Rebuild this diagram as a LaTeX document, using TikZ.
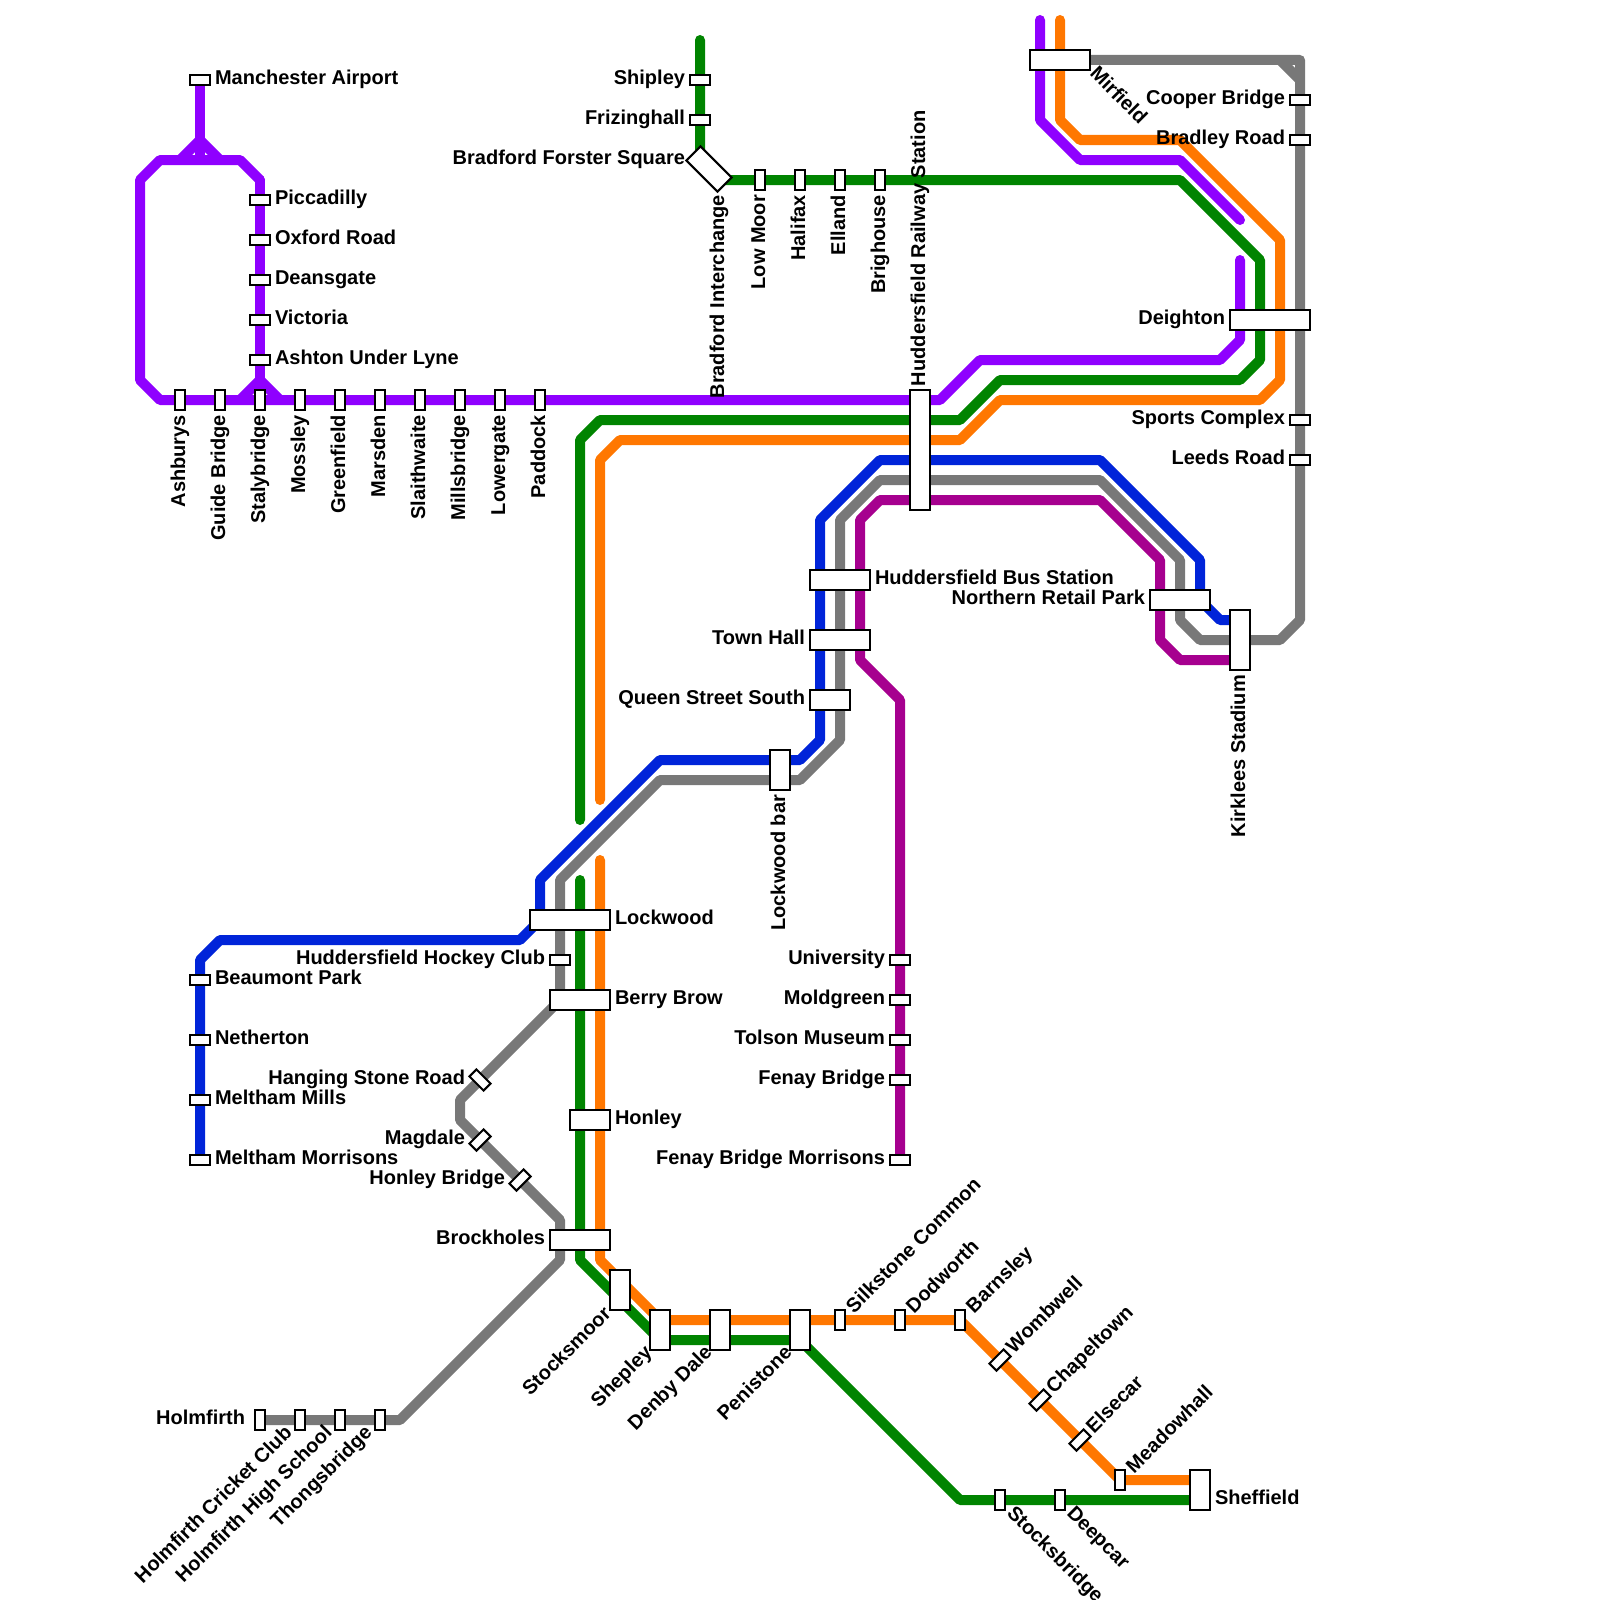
\documentclass[tikz,border=0pt]{standalone}
\usepackage{fontspec}
\setmainfont{Liberation Sans}
\definecolor{cPurple}{HTML}{8F00FF}
\definecolor{cGreen}{HTML}{008400}
\definecolor{cOrange}{HTML}{FF7700}
\definecolor{cBlue}{HTML}{0024D9}
\definecolor{cGrey}{HTML}{787878}
\definecolor{cMagenta}{HTML}{A6008F}
\tikzset{
  metro/.style={line width=10pt,line join=round,line cap=round},
  spur/.style={line width=10pt,line join=miter,line cap=butt},
  stopbox/.style={draw=black,fill=white,line width=2pt,inner sep=0pt,outer sep=0pt,rectangle},
  lbl/.style={font=\fontsize{20pt}{22pt}\selectfont\bfseries,inner sep=0pt,outer sep=0pt,text=black}
}
% id, x, y, w, h, rotation
\newcommand\stopat[6]{\node[stopbox,minimum width=#4pt,minimum height=#5pt,rotate=#6] (#1) at (#2,#3) {};}
% id, x, y, rotation, anchor, text
\newcommand\labelat[6]{\node[lbl,rotate=#4,anchor=#5] (#1) at (#2,#3) {#6};}
\begin{document}
\begin{tikzpicture}[x=1pt,y=-1pt]
\useasboundingbox (0,0) rectangle (1600,1600);
% lines
\draw[metro,cPurple] (260,180)--(240,160)--(160,160)--(140,180)--(140,380)--(160,400)--(940,400)--(980,360)--(1220,360)--(1240,340)--(1240,260);
\draw[metro,cPurple] (1240,220)--(1180,160)--(1080,160)--(1040,120)--(1040,20);
\draw[spur,cPurple] (200,80)--(200,160);
\draw[spur,cPurple] (200,140)--(180,160);
\draw[spur,cPurple] (200,140)--(220,160);
\draw[metro,cPurple] (260,180)--(260,400);
\draw[spur,cPurple] (260,380)--(240,400);
\draw[spur,cPurple] (260,380)--(280,400);
\draw[metro,cGreen] (700,40)--(700,160)--(720,180)--(1180,180)--(1260,260)--(1260,360)--(1240,380)--(1000,380)--(960,420)--(600,420)--(580,440)--(580,820);
\draw[metro,cGreen] (580,880)--(580,1260)--(660,1340)--(800,1340)--(960,1500)--(1200,1500);
\draw[metro,cOrange] (1060,20)--(1060,120)--(1080,140)--(1180,140)--(1280,240)--(1280,380)--(1260,400)--(1000,400)--(960,440)--(620,440)--(600,460)--(600,800);
\draw[metro,cOrange] (600,860)--(600,1260)--(660,1320)--(960,1320)--(1120,1480)--(1200,1480);
\draw[metro,cBlue] (200,1160)--(200,960)--(220,940)--(520,940)--(540,920)--(540,880)--(660,760)--(800,760)--(820,740)--(820,520)--(880,460)--(1100,460)--(1200,560)--(1200,600)--(1220,620)--(1240,620);
\draw[metro,cGrey] (1060,60)--(1300,60)--(1300,620)--(1280,640)--(1200,640)--(1180,620)--(1180,560)--(1100,480)--(880,480)--(840,520)--(840,740)--(800,780)--(660,780)--(560,880)--(560,1000)--(460,1100)--(460,1120)--(560,1220)--(560,1260)--(400,1420)--(260,1420);
\draw[spur,cGrey] (1280,60)--(1300,80);
\draw[metro,cMagenta] (900,1160)--(900,700)--(860,660)--(860,520)--(880,500)--(1100,500)--(1160,560)--(1160,640)--(1180,660)--(1240,660);
% horizontal small stops, label right
\stopat{sA}{200}{80}{20}{10}{0}
\stopat{sB}{260}{200}{20}{10}{0}
\stopat{sC}{260}{240}{20}{10}{0}
\stopat{sD}{260}{280}{20}{10}{0}
\stopat{sE}{260}{320}{20}{10}{0}
\stopat{sF}{260}{360}{20}{10}{0}
\stopat{sG}{200}{980}{20}{10}{0}
\stopat{sH}{200}{1040}{20}{10}{0}
\stopat{sI}{200}{1100}{20}{10}{0}
\stopat{sJ}{200}{1160}{20}{10}{0}
% horizontal small stops, label left
\stopat{sK}{700}{80}{20}{10}{0}
\stopat{sL}{700}{120}{20}{10}{0}
\stopat{sM}{560}{960}{20}{10}{0}
\stopat{sN}{900}{960}{20}{10}{0}
\stopat{sO}{900}{1000}{20}{10}{0}
\stopat{sP}{900}{1040}{20}{10}{0}
\stopat{sQ}{900}{1080}{20}{10}{0}
\stopat{sR}{900}{1160}{20}{10}{0}
\stopat{sS}{1300}{100}{20}{10}{0}
\stopat{sT}{1300}{140}{20}{10}{0}
\stopat{sU}{1300}{420}{20}{10}{0}
\stopat{sV}{1300}{460}{20}{10}{0}
% vertical small stops
\stopat{tA}{180}{400}{10}{20}{0}
\stopat{tB}{220}{400}{10}{20}{0}
\stopat{tC}{260}{400}{10}{20}{0}
\stopat{tD}{300}{400}{10}{20}{0}
\stopat{tE}{340}{400}{10}{20}{0}
\stopat{tF}{380}{400}{10}{20}{0}
\stopat{tG}{420}{400}{10}{20}{0}
\stopat{tH}{460}{400}{10}{20}{0}
\stopat{tI}{500}{400}{10}{20}{0}
\stopat{tJ}{540}{400}{10}{20}{0}
\stopat{tK}{760}{180}{10}{20}{0}
\stopat{tL}{800}{180}{10}{20}{0}
\stopat{tM}{840}{180}{10}{20}{0}
\stopat{tN}{880}{180}{10}{20}{0}
\stopat{tO}{840}{1320}{10}{20}{0}
\stopat{tP}{900}{1320}{10}{20}{0}
\stopat{tQ}{960}{1320}{10}{20}{0}
\stopat{tR}{1120}{1480}{10}{20}{0}
\stopat{tS}{1000}{1500}{10}{20}{0}
\stopat{tT}{1060}{1500}{10}{20}{0}
\stopat{tU}{260}{1420}{10}{20}{0}
\stopat{tV}{300}{1420}{10}{20}{0}
\stopat{tW}{340}{1420}{10}{20}{0}
\stopat{tX}{380}{1420}{10}{20}{0}
% diagonal stops
\stopat{dA}{480}{1080}{20}{10}{-45}
\stopat{dB}{480}{1140}{20}{10}{45}
\stopat{dC}{520}{1180}{20}{10}{45}
\stopat{dD}{1000}{1360}{20}{10}{45}
\stopat{dE}{1040}{1400}{20}{10}{45}
\stopat{dF}{1080}{1440}{20}{10}{45}
\stopat{dG}{709}{169}{44}{20}{-45}
% interchanges
\stopat{bA}{920}{450}{20}{120}{0}
\stopat{bB}{840}{580}{60}{20}{0}
\stopat{bC}{840}{640}{60}{20}{0}
\stopat{bD}{830}{700}{40}{20}{0}
\stopat{bE}{780}{770}{20}{40}{0}
\stopat{bF}{570}{920}{80}{20}{0}
\stopat{bG}{580}{1000}{60}{20}{0}
\stopat{bH}{590}{1120}{40}{20}{0}
\stopat{bI}{580}{1240}{60}{20}{0}
\stopat{bJ}{620}{1290}{20}{40}{0}
\stopat{bK}{660}{1330}{20}{40}{0}
\stopat{bL}{720}{1330}{20}{40}{0}
\stopat{bM}{800}{1330}{20}{40}{0}
\stopat{bN}{1200}{1490}{20}{40}{0}
\stopat{bO}{1240}{640}{20}{60}{0}
\stopat{bP}{1180}{600}{60}{20}{0}
\stopat{bQ}{1270}{320}{80}{20}{0}
\stopat{bR}{1060}{60}{60}{20}{0}
% labels right
\labelat{lA}{215}{84.8}{0}{base west}{Manchester Airport}
\labelat{lB}{275}{204.8}{0}{base west}{Piccadilly}
\labelat{lC}{275}{244.8}{0}{base west}{Oxford Road}
\labelat{lD}{275}{284.8}{0}{base west}{Deansgate}
\labelat{lE}{275}{324.8}{0}{base west}{Victoria}
\labelat{lF}{275}{364.8}{0}{base west}{Ashton Under Lyne}
\labelat{lG}{215}{984.8}{0}{base west}{Beaumont Park}
\labelat{lH}{215}{1044.8}{0}{base west}{Netherton}
\labelat{lI}{215}{1104.8}{0}{base west}{Meltham Mills}
\labelat{lJ}{215}{1164.8}{0}{base west}{Meltham Morrisons}
\labelat{lK}{875}{584.8}{0}{base west}{Huddersfield Bus Station}
\labelat{lL}{615}{924.8}{0}{base west}{Lockwood}
\labelat{lM}{615}{1004.8}{0}{base west}{Berry Brow}
\labelat{lN}{615}{1124.8}{0}{base west}{Honley}
\labelat{lO}{1215}{1504.8}{0}{base west}{Sheffield}
% labels left
\labelat{mA}{685}{84.8}{0}{base east}{Shipley}
\labelat{mB}{685}{124.8}{0}{base east}{Frizinghall}
\labelat{mC}{685}{164.8}{0}{base east}{Bradford Forster Square}
\labelat{mD}{805}{644.8}{0}{base east}{Town Hall}
\labelat{mE}{805}{704.8}{0}{base east}{Queen Street South}
\labelat{mF}{545}{964.8}{0}{base east}{Huddersfield Hockey Club}
\labelat{mG}{465}{1084.8}{0}{base east}{Hanging Stone Road}
\labelat{mH}{465}{1144.8}{0}{base east}{Magdale}
\labelat{mI}{505}{1184.8}{0}{base east}{Honley Bridge}
\labelat{mJ}{545}{1244.8}{0}{base east}{Brockholes}
\labelat{mK}{245}{1424.8}{0}{base east}{Holmfirth}
\labelat{mL}{885}{964.8}{0}{base east}{University}
\labelat{mM}{885}{1004.8}{0}{base east}{Moldgreen}
\labelat{mN}{885}{1044.8}{0}{base east}{Tolson Museum}
\labelat{mO}{885}{1084.8}{0}{base east}{Fenay Bridge}
\labelat{mP}{885}{1164.8}{0}{base east}{Fenay Bridge Morrisons}
\labelat{mQ}{1145}{604.8}{0}{base east}{Northern Retail Park}
\labelat{mR}{1225}{324.8}{0}{base east}{Deighton}
\labelat{mS}{1285}{104.8}{0}{base east}{Cooper Bridge}
\labelat{mT}{1285}{144.8}{0}{base east}{Bradley Road}
\labelat{mU}{1285}{424.8}{0}{base east}{Sports Complex}
\labelat{mV}{1285}{464.8}{0}{base east}{Leeds Road}
% labels vertical
\labelat{vA}{185}{415}{90}{base east}{Ashburys}
\labelat{vB}{225}{415}{90}{base east}{Guide Bridge}
\labelat{vC}{265}{415}{90}{base east}{Stalybridge}
\labelat{vD}{305}{415}{90}{base east}{Mossley}
\labelat{vE}{345}{415}{90}{base east}{Greenfield}
\labelat{vF}{385}{415}{90}{base east}{Marsden}
\labelat{vG}{425}{415}{90}{base east}{Slaithwaite}
\labelat{vH}{465}{415}{90}{base east}{Millsbridge}
\labelat{vI}{505}{415}{90}{base east}{Lowergate}
\labelat{vJ}{545}{415}{90}{base east}{Paddock}
\labelat{vK}{724}{195}{90}{base east}{Bradford Interchange}
\labelat{vL}{765}{195}{90}{base east}{Low Moor}
\labelat{vM}{805}{195}{90}{base east}{Halifax}
\labelat{vN}{845}{195}{90}{base east}{Elland}
\labelat{vO}{885}{195}{90}{base east}{Brighouse}
\labelat{vP}{925}{386}{90}{base west}{Huddersfield Railway Station}
\labelat{vQ}{785}{795}{90}{base east}{Lockwood bar}
\labelat{vR}{1245}{675}{90}{base east}{Kirklees Stadium}
% labels diagonal up-right
\labelat{nA}{854}{1314}{45}{base west}{Silkstone Common}
\labelat{nB}{914}{1314}{45}{base west}{Dodworth}
\labelat{nC}{974}{1314}{45}{base west}{Barnsley}
\labelat{nD}{1014}{1354}{45}{base west}{Wombwell}
\labelat{nE}{1054}{1394}{45}{base west}{Chapeltown}
\labelat{nF}{1094}{1434}{45}{base west}{Elsecar}
\labelat{nG}{1134}{1474}{45}{base west}{Meadowhall}
% labels diagonal, ending at the stop
\labelat{oA}{612}{1315}{45}{base east}{Stocksmoor}
\labelat{oB}{653}{1354}{45}{base east}{Shepley}
\labelat{oC}{713}{1354}{45}{base east}{Denby Dale}
\labelat{oD}{793}{1354}{45}{base east}{Penistone}
\labelat{oE}{293}{1434}{45}{base east}{Holmfirth Cricket Club}
\labelat{oF}{333}{1434}{45}{base east}{Holmfirth High School}
\labelat{oG}{373}{1434}{45}{base east}{Thongsbridge}
% labels diagonal down-right
\labelat{pA}{1089}{75}{-45}{base west}{Mirfield}
\labelat{pB}{1006}{1514}{-45}{base west}{Stocksbridge}
\labelat{pC}{1066}{1514}{-45}{base west}{Deepcar}
\end{tikzpicture}
\end{document}
